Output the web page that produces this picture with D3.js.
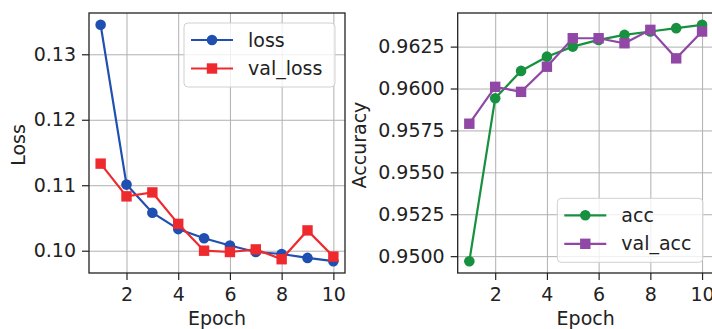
<!DOCTYPE html>
<html>
<head>
<meta charset="utf-8">
<script src="https://cdn.jsdelivr.net/npm/d3@7"></script>
<style>
  body { margin: 0; background: #fff; }
  svg { display: block; font-family: "DejaVu Sans", sans-serif; }
</style>
</head>
<body>
<div id="chart"></div>
<script>
// values
var epochs   = [1, 2, 3, 4, 5, 6, 7, 8, 9, 10];
var loss     = [0.1345, 0.1101, 0.1058, 0.1033, 0.1019, 0.1008, 0.0998, 0.0995, 0.0989, 0.0984];
var val_loss = [0.1133, 0.1083, 0.1089, 0.1041, 0.1000, 0.0998, 0.1002, 0.0987, 0.1031, 0.0991];
var acc      = [0.9497, 0.95942, 0.96105, 0.9619, 0.9625, 0.9629, 0.9632, 0.9634, 0.9636, 0.9638];
var val_acc  = [0.9579, 0.9601, 0.9598, 0.9613, 0.9630, 0.9630, 0.9627, 0.9635, 0.9618, 0.9634];
var xTicks    = [2, 4, 6, 8, 10];
var lossTicks = [0.10, 0.11, 0.12, 0.13];
var accTicks  = [0.9500, 0.9525, 0.9550, 0.9575, 0.9600, 0.9625];

var W = 712, H = 329, FS = 19;
var svg = d3.select("#chart").append("svg")
    .attr("width", W).attr("height", H);

// pad a data extent like matplotlib's default 5% margin
function padded(vals) {
  var e = d3.extent(vals), m = (e[1] - e[0]) * 0.05;
  return [e[0] - m, e[1] + m];
}

var panel = function(opt) {
  var w = 256, h = 260;
  var g = svg.append("g").attr("transform", "translate(" + opt.left + ",13)");

  var x = d3.scaleLinear().domain(padded(epochs)).range([0, w]);
  var y = d3.scaleLinear().domain(padded(opt.series[0].values.concat(opt.series[1].values))).range([h, 0]);

  // grid
  g.append("g").attr("class", "grid")
    .attr("transform", "translate(0," + h + ")")
    .call(d3.axisBottom(x).tickValues(xTicks).tickSize(-h).tickFormat(""));
  g.append("g").attr("class", "grid")
    .call(d3.axisLeft(y).tickValues(opt.ticks).tickSize(-w).tickFormat(""));
  g.selectAll(".grid .domain").remove();
  g.selectAll(".grid line").attr("stroke", "#b0b0b0").attr("stroke-width", 1);

  // series
  opt.series.forEach(function(s) {
    var pts = epochs.map(function(e, i) { return [e, s.values[i]]; });
    g.append("path")
      .datum(pts)
      .attr("fill", "none")
      .attr("stroke", s.color)
      .attr("stroke-width", 2.2)
      .attr("d", d3.line().x(function(d) { return x(d[0]); }).y(function(d) { return y(d[1]); }));
    if (s.marker == "circle") {
      g.selectAll(null).data(pts).enter().append("circle")
        .attr("cx", function(d) { return x(d[0]); })
        .attr("cy", function(d) { return y(d[1]); })
        .attr("r", 5.3)
        .attr("fill", s.color);
    } else {
      g.selectAll(null).data(pts).enter().append("rect")
        .attr("x", function(d) { return x(d[0]) - 5.2; })
        .attr("y", function(d) { return y(d[1]) - 5.2; })
        .attr("width", 10.4).attr("height", 10.4)
        .attr("fill", s.color);
    }
  });

  // axes
  var xa = g.append("g").attr("transform", "translate(0," + h + ")")
    .call(d3.axisBottom(x).tickValues(xTicks).tickSize(7).tickPadding(8).tickSizeOuter(0));
  var ya = g.append("g")
    .call(d3.axisLeft(y).tickValues(opt.ticks).tickFormat(d3.format(opt.fmt)).tickSize(7).tickPadding(6).tickSizeOuter(0));
  [xa, ya].forEach(function(a) {
    a.attr("font-size", FS).attr("font-family", "DejaVu Sans");
    a.selectAll("text").attr("fill", "#222");
    a.selectAll("line").attr("stroke", "#222").attr("stroke-width", 1.2);
    a.select(".domain").remove();
  });

  // spines
  g.append("rect").attr("width", w).attr("height", h)
    .attr("fill", "none").attr("stroke", "#222").attr("stroke-width", 1.3);

  // axis titles
  g.append("text")
    .attr("x", w / 2).attr("y", 312)
    .attr("text-anchor", "middle")
    .style("font-size", FS + "px").attr("fill", "#222")
    .text("Epoch");
  g.append("text")
    .attr("transform", "translate(" + opt.labelX + "," + (h / 2 + 2) + ")rotate(-90)")
    .attr("text-anchor", "middle")
    .style("font-size", FS + "px").attr("fill", "#222")
    .text(opt.label);

  // legend
  var lg = g.append("g").attr("transform", "translate(" + opt.legend[0] + "," + opt.legend[1] + ")");
  lg.append("rect")
    .attr("width", opt.legendW).attr("height", 64).attr("rx", 4)
    .attr("fill", "white").attr("fill-opacity", 0.8)
    .attr("stroke", "#d0d0d0");
  opt.series.forEach(function(s, i) {
    var ry = 17 + i * 28.5;
    lg.append("line").attr("x1", 7).attr("x2", 49).attr("y1", ry).attr("y2", ry)
      .attr("stroke", s.color).attr("stroke-width", 2.2);
    if (s.marker == "circle") {
      lg.append("circle").attr("cx", 28).attr("cy", ry).attr("r", 5.3).attr("fill", s.color);
    } else {
      lg.append("rect").attr("x", 22.8).attr("y", ry - 5.2).attr("width", 10.4).attr("height", 10.4).attr("fill", s.color);
    }
    lg.append("text").attr("x", 64).attr("y", ry).attr("dy", "0.35em")
      .style("font-size", FS + "px").attr("fill", "#222")
      .text(s.name);
  });
};

panel({
  left: 89,
  series: [
    {name: "loss", values: loss, color: "#1f4fb0", marker: "circle"},
    {name: "val_loss", values: val_loss, color: "#ee2a2e", marker: "square"}
  ],
  ticks: lossTicks, fmt: ".2f",
  label: "Loss", labelX: -64,
  legend: [95, 10], legendW: 151
});

panel({
  left: 457.7,
  series: [
    {name: "acc", values: acc, color: "#17913f", marker: "circle"},
    {name: "val_acc", values: val_acc, color: "#9147a6", marker: "square"}
  ],
  ticks: accTicks, fmt: ".4f",
  label: "Accuracy", labelX: -92,
  legend: [99.6, 185.3], legendW: 145.5
});
</script>
</body>
</html>
